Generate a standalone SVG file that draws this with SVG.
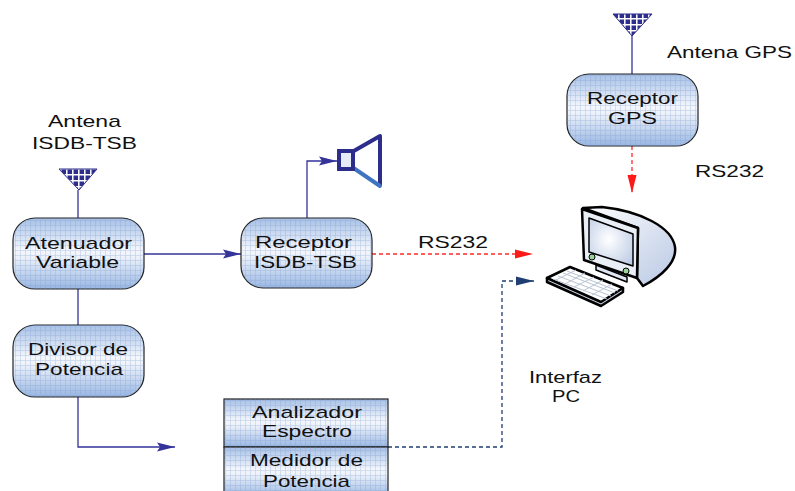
<svg xmlns="http://www.w3.org/2000/svg" width="795" height="491" viewBox="0 0 795 491">
  <style>
    .lbl { font-family: "Liberation Sans", Arial, sans-serif; font-size: 17px; fill: #111; }
    .box { fill: url(#boxg); stroke: #222; stroke-width: 1.2; }
    .grid { fill: url(#grid); stroke: none; }
    .wire { fill: none; stroke: #33339a; stroke-width: 1.3; }
    .red { fill: none; stroke: #ff2a2a; stroke-width: 1.3; stroke-dasharray: 4 3; }
    .navy { fill: none; stroke: #1f3f72; stroke-width: 1.3; stroke-dasharray: 4 3; }
    .ant { fill: url(#antp); stroke: #2d2d8c; stroke-width: 1; }
  </style>
  <defs>
    <linearGradient id="boxg" x1="0" y1="0" x2="0" y2="1">
      <stop offset="0" stop-color="#a6c0e6"/>
      <stop offset="0.45" stop-color="#f4f7fc"/>
      <stop offset="0.55" stop-color="#edf2fa"/>
      <stop offset="1" stop-color="#98b6e2"/>
    </linearGradient>
    <pattern id="grid" width="5" height="5" patternUnits="userSpaceOnUse">
      <path d="M0,0.5 H5 M0.5,0 V5" stroke="#7c9ccf" stroke-width="0.6" opacity="0.45"/>
    </pattern>
    <pattern id="antp" width="6" height="6" patternUnits="userSpaceOnUse">
      <rect width="6" height="6" fill="#2d2d8c"/>
      <path d="M0,0.8 H6 M0.8,0 V6" stroke="#ffffff" stroke-width="1.5"/>
    </pattern>
    <linearGradient id="shellg" x1="0" y1="0" x2="1" y2="1">
      <stop offset="0" stop-color="#ffffff"/>
      <stop offset="1" stop-color="#b9c8e4"/>
    </linearGradient>
    <radialGradient id="scrg" cx="0.45" cy="0.45" r="0.7">
      <stop offset="0" stop-color="#ffffff"/>
      <stop offset="1" stop-color="#bccbe5"/>
    </radialGradient>
    <marker id="ab" viewBox="0 0 18 10" refX="18" refY="5" markerWidth="18" markerHeight="10" markerUnits="userSpaceOnUse" orient="auto">
      <path d="M0,0.5 L18,5 L0,9.5 L3,5 Z" fill="#33339a"/>
    </marker>
    <marker id="ar" viewBox="0 0 18 10" refX="18" refY="5" markerWidth="18" markerHeight="10" markerUnits="userSpaceOnUse" orient="auto">
      <path d="M0,0.5 L18,5 L0,9.5 Z" fill="#ff1a1a"/>
    </marker>
    <marker id="an" viewBox="0 0 18 10" refX="18" refY="5" markerWidth="18" markerHeight="10" markerUnits="userSpaceOnUse" orient="auto">
      <path d="M0,0.5 L18,5 L0,9.5 Z" fill="#1f3f72"/>
    </marker>
  </defs>

  <rect width="795" height="491" fill="#ffffff"/>

  <!-- connectors -->
  <g id="connectors">
    <path class="wire" d="M78,190 V218"/>
    <path class="wire" d="M78,289 V325"/>
    <path class="wire" d="M78,397 V447 H175" marker-end="url(#ab)"/>
    <path class="wire" d="M144,254 H241" marker-end="url(#ab)"/>
    <path class="wire" d="M307,218 V161 H337" marker-end="url(#ab)"/>
    <path class="wire" d="M632,36 V74"/>
    <path class="red" d="M632,146 V193" marker-end="url(#ar)"/>
    <path class="red" d="M372,254 H533" marker-end="url(#ar)"/>
    <path class="navy" d="M388,447 H502 V281 H534" marker-end="url(#an)"/>
  </g>

  <!-- antenna ISDB-TSB -->
  <g id="antenna-isdb">
    <path class="ant" d="M59,169 H97 L79,190 Z"/>
    <text class="lbl" x="48" y="127" textLength="73" lengthAdjust="spacingAndGlyphs">Antena</text>
    <text class="lbl" x="32" y="149" textLength="105" lengthAdjust="spacingAndGlyphs">ISDB-TSB</text>
  </g>

  <!-- antenna GPS -->
  <g id="antenna-gps">
    <path class="ant" d="M613,14 H652 L632,36 Z"/>
    <text class="lbl" x="667" y="58" textLength="125" lengthAdjust="spacingAndGlyphs">Antena GPS</text>
  </g>

  <g id="atenuador">
    <rect class="box" x="13" y="218" width="131" height="71" rx="22"/>
    <rect class="grid" x="13" y="218" width="131" height="71" rx="22"/>
    <text class="lbl" x="25" y="249" textLength="107" lengthAdjust="spacingAndGlyphs">Atenuador</text>
    <text class="lbl" x="36" y="268" textLength="83" lengthAdjust="spacingAndGlyphs">Variable</text>
  </g>

  <g id="divisor">
    <rect class="box" x="13" y="325" width="131" height="72" rx="22"/>
    <rect class="grid" x="13" y="325" width="131" height="72" rx="22"/>
    <text class="lbl" x="28" y="355" textLength="100" lengthAdjust="spacingAndGlyphs">Divisor de</text>
    <text class="lbl" x="35" y="375" textLength="88" lengthAdjust="spacingAndGlyphs">Potencia</text>
  </g>

  <g id="receptor-isdb">
    <rect class="box" x="241" y="218" width="131" height="70" rx="22"/>
    <rect class="grid" x="241" y="218" width="131" height="70" rx="22"/>
    <text class="lbl" x="255" y="248" textLength="97" lengthAdjust="spacingAndGlyphs">Receptor</text>
    <text class="lbl" x="254" y="268" textLength="103" lengthAdjust="spacingAndGlyphs">ISDB-TSB</text>
  </g>

  <g id="receptor-gps">
    <rect class="box" x="567" y="74" width="131" height="72" rx="22"/>
    <rect class="grid" x="567" y="74" width="131" height="72" rx="22"/>
    <text class="lbl" x="587" y="104" textLength="91" lengthAdjust="spacingAndGlyphs">Receptor</text>
    <text class="lbl" x="608" y="124" textLength="49" lengthAdjust="spacingAndGlyphs">GPS</text>
  </g>

  <!-- speaker -->
  <g id="speaker">
    <path d="M352,152 L380,136 V186" fill="none" stroke="#2d2d8c" stroke-width="4" stroke-linejoin="round"/>
    <path d="M380,186 L352,167" fill="none" stroke="#3f74c0" stroke-width="4" stroke-linecap="round"/>
    <rect x="339" y="151" width="14" height="18" fill="#e6edf8" stroke="#2d2d8c" stroke-width="4"/>
  </g>

  <!-- analyser / power meter -->
  <g id="analizador">
    <rect class="box" x="224" y="399" width="164" height="48"/>
    <rect class="grid" x="224" y="399" width="164" height="48"/>
    <text class="lbl" x="252" y="418" textLength="110" lengthAdjust="spacingAndGlyphs">Analizador</text>
    <text class="lbl" x="262" y="437" textLength="90" lengthAdjust="spacingAndGlyphs">Espectro</text>
  </g>
  <g id="medidor">
    <rect class="box" x="224" y="447" width="164" height="50"/>
    <rect class="grid" x="224" y="447" width="164" height="50"/>
    <text class="lbl" x="250" y="466" textLength="113" lengthAdjust="spacingAndGlyphs">Medidor de</text>
    <text class="lbl" x="263" y="487" textLength="87" lengthAdjust="spacingAndGlyphs">Potencia</text>
  </g>

  <!-- computer -->
  <g id="pc" stroke="#000" stroke-linejoin="round">
    <path d="M583,208 L602,207 C640,211 672,227 675,247 C677,262 662,276 643,286 L637,278 L638,228 Z" fill="url(#shellg)" stroke-width="2.5"/>
    <path d="M582,209 L638,228 L637,278 L584,260 Z" fill="#e9eef7" stroke-width="2.5"/>
    <path d="M589,218 L633,234 L633,266 L589,252 Z" fill="url(#scrg)" stroke-width="1.5"/>
    <path d="M596,265 L627,277 L627,282 L596,270 Z" fill="#dfe6f2" stroke-width="1.5"/>
    <circle cx="592" cy="257" r="3" fill="#9ad39a" stroke-width="1"/>
    <circle cx="626" cy="271" r="3" fill="#9ad39a" stroke-width="1"/>
    <path d="M547,278 L547,282 L601,306 L623,292 L623,288 Z" fill="#d0d8e6" stroke-width="2.5"/>
    <path d="M547,278 L570,267 L623,288 L601,302 Z" fill="#ffffff" stroke-width="2.5"/>
    <path d="M553,279 L607,299 M558,276 L611,296 M563,273 L615,293 M567,271 L618,291 M556,280 L576,270 M565,284 L585,273 M574,287 L594,277 M583,291 L603,280 M592,295 L612,284" fill="none" stroke="#b9c3d4" stroke-width="1"/>
  </g>

  <!-- link labels -->
  <g id="labels">
    <text class="lbl" x="418" y="248" textLength="70" lengthAdjust="spacingAndGlyphs">RS232</text>
    <text class="lbl" x="695" y="177" textLength="69" lengthAdjust="spacingAndGlyphs">RS232</text>
    <text class="lbl" x="529" y="383" textLength="73" lengthAdjust="spacingAndGlyphs">Interfaz</text>
    <text class="lbl" x="552" y="402" textLength="28" lengthAdjust="spacingAndGlyphs">PC</text>
  </g>
</svg>
